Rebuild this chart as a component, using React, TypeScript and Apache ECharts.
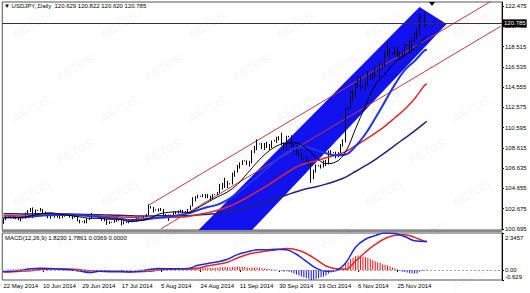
import React, { useEffect, useRef } from 'react';
import * as echarts from 'echarts';

const tickLabels = ['22 May 2014', '10 Jun 2014', '29 Jun 2014', '17 Jul 2014', '5 Aug 2014', '24 Aug 2014', '11 Sep 2014', '30 Sep 2014', '19 Oct 2014', '6 Nov 2014', '25 Nov 2014'];
const barsPerTick = 16;
const totalSlots = 203;

const opens = [101.30,101.65,101.92,101.94,101.95,101.90,101.80,101.65,101.72,101.76,
102.25,102.45,102.70,102.15,102.48,102.52,102.55,102.35,102.10,101.85,
101.98,101.99,101.85,102.10,101.80,102.05,102.02,102.05,101.90,101.95,
101.90,101.50,101.40,101.38,101.30,101.70,101.75,102.05,102.00,102.02,
101.80,101.60,101.60,101.30,101.33,101.36,101.55,101.60,101.55,101.20,
101.30,101.34,101.40,101.50,101.45,101.80,101.80,101.83,101.85,102.10,
102.80,102.80,102.55,102.58,102.55,102.60,102.10,102.05,102.05,102.06,
102.35,102.25,102.45,102.40,102.38,102.42,102.60,102.95,103.70,103.80,
103.90,103.90,103.85,104.05,103.85,103.70,104.05,104.06,104.25,105.05,
104.75,105.25,105.10,105.12,106.15,106.25,106.80,107.10,107.33,107.35,
107.20,107.15,108.40,108.70,109.00,109.02,108.70,109.00,108.85,108.75,
109.30,109.35,109.45,109.65,108.90,108.45,109.70,109.78,108.85,108.75,
108.15,108.05,107.55,107.55,107.35,107.20,105.90,106.35,106.85,106.87,
106.95,107.20,107.05,108.20,108.15,108.15,107.85,108.15,108.90,109.25,
112.40,112.45,114.00,113.60,114.70,115.00,114.55,114.55,114.80,115.85,
115.60,115.80,116.25,116.28,116.60,116.70,117.90,118.20,117.80,117.85,
118.40,117.95,117.65,117.80,118.60,118.62,118.40,119.20,119.80,119.85,
121.40,121.50,120.629];

const highs = [101.75,102.00,101.98,102.10,102.05,101.95,101.85,101.90,101.80,102.30,
102.55,102.75,102.80,102.60,102.56,102.75,102.65,102.40,102.15,102.15,
102.03,102.05,102.25,102.20,102.10,102.15,102.08,102.15,102.10,102.05,
101.95,101.60,101.45,101.55,101.75,101.80,102.25,102.10,102.05,102.05,
101.85,101.75,101.70,101.45,101.40,101.60,101.90,101.75,101.60,101.45,
101.38,101.50,101.60,101.60,101.85,101.85,101.85,101.95,102.15,103.10,
102.95,102.85,102.62,102.70,102.75,102.65,102.15,102.10,102.10,102.40,
102.45,102.50,102.60,102.55,102.45,102.65,103.00,103.80,103.90,104.05,
103.95,104.10,104.10,104.10,103.95,104.10,104.10,104.30,105.10,105.20,
105.70,105.40,105.15,106.20,106.40,106.95,107.20,107.40,107.40,107.40,
107.35,108.40,108.80,109.45,109.05,109.10,109.10,109.20,109.00,109.35,
109.40,109.70,109.75,110.10,109.15,109.80,109.80,109.85,109.00,108.90,
108.40,108.15,107.60,107.75,107.45,107.30,106.50,107.00,106.92,107.00,
107.40,107.45,108.35,108.40,108.20,108.25,108.20,109.00,109.45,112.40,
112.55,114.20,114.20,114.95,115.50,115.60,114.65,115.00,116.10,115.90,
116.00,116.45,116.35,117.05,116.85,118.00,118.95,118.30,117.90,118.50,
118.45,118.00,118.00,118.75,118.70,119.15,119.40,119.90,120.25,121.70,
121.55,121.85,120.822];

const lows = [101.20,101.55,101.88,101.85,101.70,101.65,101.55,101.45,101.70,101.70,
102.10,102.35,101.75,102.10,102.45,102.40,102.25,101.95,101.75,101.70,
101.95,101.80,101.80,101.70,101.75,101.90,102.00,101.80,101.65,101.80,
101.45,101.25,101.35,101.25,101.25,101.55,101.70,101.95,101.97,101.70,
101.50,101.45,101.10,101.20,101.30,101.30,101.40,101.50,101.05,101.15,
101.28,101.25,101.35,101.40,101.40,101.65,101.78,101.70,101.80,102.05,
102.70,102.30,102.50,102.40,102.45,101.95,101.75,101.50,102.02,102.00,
102.15,102.20,102.30,102.20,102.35,102.35,102.55,102.90,103.40,103.70,
103.85,103.80,103.70,103.70,103.45,103.65,104.02,104.00,104.20,104.55,
104.70,104.70,105.05,105.05,105.80,106.20,106.60,106.95,107.30,106.95,
106.80,107.10,108.10,108.40,108.95,108.50,108.40,108.60,108.40,108.60,
109.25,109.10,109.35,108.85,108.30,108.40,109.65,108.70,108.30,107.95,
107.80,107.40,107.50,107.15,106.90,105.20,105.55,106.20,106.80,106.60,
106.70,106.85,107.00,107.90,108.10,107.60,107.70,108.10,108.75,109.15,
112.35,112.40,113.25,113.50,114.50,114.25,114.50,114.30,114.70,115.25,
115.35,115.50,116.20,115.45,116.30,116.55,117.60,117.30,117.75,117.70,
117.50,117.25,117.50,117.60,118.55,117.90,118.10,119.00,119.30,119.70,
121.35,120.45,120.620];

const closes = [101.65,101.95,101.94,101.95,101.90,101.80,101.65,101.75,101.76,102.25,
102.45,102.70,102.15,102.50,102.52,102.55,102.35,102.10,101.85,102.00,
101.99,101.85,102.10,101.80,102.05,102.05,102.05,101.90,101.95,101.90,
101.50,101.35,101.38,101.30,101.70,101.75,102.05,102.00,102.02,101.80,
101.60,101.60,101.30,101.35,101.36,101.55,101.60,101.55,101.20,101.35,
101.34,101.40,101.50,101.45,101.80,101.80,101.83,101.85,102.10,102.80,
102.80,102.60,102.58,102.55,102.60,102.10,102.05,102.00,102.06,102.35,
102.25,102.45,102.40,102.35,102.42,102.60,102.95,103.70,103.80,103.85,
103.90,103.85,104.05,103.85,103.70,104.05,104.06,104.25,105.05,104.75,
105.25,105.10,105.12,106.15,106.25,106.80,107.10,107.35,107.35,107.20,
107.15,108.40,108.70,109.00,109.02,108.70,109.00,108.85,108.75,109.30,
109.35,109.45,109.65,108.90,108.45,109.75,109.78,108.85,108.75,108.15,
108.05,107.60,107.55,107.35,107.20,105.90,106.35,106.90,106.87,106.95,
107.20,107.05,108.20,108.20,108.15,107.85,108.15,108.90,109.25,112.30,
112.45,114.00,113.60,114.70,115.00,114.60,114.55,114.80,115.85,115.60,
115.80,116.30,116.28,116.60,116.70,117.90,118.20,117.75,117.85,118.40,
117.95,117.65,117.80,118.65,118.62,118.40,119.20,119.80,119.85,121.45,
121.50,120.63,120.785];

// bar positions at which the indicator lines were read
const sampleIdx = [0,3,7,11,15,19,23,27,31,35,39,43,47,51,55,59,63,67,71,75,79,83,87,91,95,99,103,107,111,115,119,123,127,131,135,139,143,147,151,155,159,163,167,171,172];

const maBlack = [101.80,101.82,101.82,101.98,102.17,102.27,102.15,102.01,101.88,101.74,101.73,101.65,101.65,101.43,101.49,101.70,102.14,102.32,102.37,102.30,102.77,103.31,103.84,104.32,105.05,106.12,107.21,108.15,108.80,109.10,109.09,108.57,107.70,107.08,107.24,108.26,110.48,112.69,114.77,115.83,116.94,117.64,118.36,119.29,119.55];
const maBlue = [101.81,101.81,101.81,101.89,102.00,102.04,102.07,102.09,102.07,101.95,101.87,101.77,101.70,101.58,101.57,101.68,101.79,101.91,102.04,102.22,102.55,102.84,103.07,103.55,104.18,104.98,105.77,106.60,107.46,108.16,108.62,108.69,108.40,108.09,107.90,107.98,108.78,109.97,111.52,113.16,114.82,116.21,117.10,118.12,118.20];
const maRed = [101.99,101.99,101.97,101.99,102.03,102.04,102.04,102.04,102.01,101.96,101.96,101.91,101.88,101.84,101.78,101.75,101.80,101.83,101.85,101.92,102.11,102.28,102.52,102.84,103.27,103.78,104.34,104.91,105.55,106.17,106.76,107.13,107.37,107.65,107.92,108.25,108.83,109.42,110.05,110.75,111.56,112.39,113.42,114.72,114.85];
const maNavy = [102.18,102.18,102.17,102.17,102.18,102.18,102.16,102.15,102.13,102.10,102.09,102.06,102.03,101.99,101.96,101.96,101.98,101.98,101.98,101.99,102.05,102.13,102.21,102.36,102.55,102.78,103.05,103.36,103.69,104.01,104.34,104.62,104.83,105.08,105.38,105.76,106.31,106.88,107.48,108.15,108.87,109.57,110.27,111.04,111.20];

const macdMain = [-0.11,-0.08,-0.02,0.08,0.12,0.10,0.06,0.02,-0.06,-0.16,-0.08,-0.10,-0.10,-0.12,-0.08,0.02,0.10,0.08,0.08,0.10,0.30,0.42,0.52,0.68,0.98,1.15,1.28,1.28,1.32,1.28,1.00,0.55,0.12,-0.08,-0.02,0.45,1.45,1.95,2.18,2.3457,2.32,2.12,1.85,1.80,1.823];
const macdSignal = [-0.13,-0.12,-0.08,-0.04,0.03,0.07,0.07,0.06,0.02,-0.04,-0.04,-0.06,-0.08,-0.10,-0.10,-0.08,0.00,0.05,0.06,0.07,0.12,0.27,0.37,0.50,0.76,0.98,1.11,1.20,1.29,1.36,1.28,1.05,0.67,0.26,0.08,0.05,0.57,1.13,1.62,2.00,2.20,2.24,2.07,1.82,1.786];
const macdHist = [0.02,0.03,0.03,0.04,0.05,0.05,0.06,0.06,
0.08,0.10,0.11,0.12,0.11,0.10,0.09,0.09,
0.08,0.06,0.04,0.03,0.02,0.01,0.00,-0.01,
-0.02,-0.02,-0.03,-0.04,-0.05,-0.06,-0.07,-0.08,
-0.10,-0.11,-0.12,-0.11,-0.08,-0.06,-0.05,-0.04,
-0.03,-0.03,-0.04,-0.04,-0.03,-0.03,-0.02,-0.02,
-0.03,-0.03,-0.03,-0.02,-0.01,0.00,0.01,0.02,
0.03,0.04,0.06,0.10,0.12,0.12,0.11,0.10,
0.08,0.06,0.04,0.03,0.03,0.02,0.02,0.02,
0.02,0.02,0.02,0.03,0.06,0.12,0.16,0.18,
0.18,0.17,0.16,0.15,0.13,0.14,0.14,0.15,
0.18,0.18,0.19,0.18,0.18,0.20,0.21,0.22,
0.21,0.20,0.19,0.17,0.14,0.16,0.16,0.17,
0.14,0.11,0.10,0.08,0.06,0.05,0.04,0.03,
0.01,-0.05,-0.10,-0.08,-0.10,-0.16,-0.22,-0.28,
-0.34,-0.40,-0.45,-0.50,-0.55,-0.629,-0.60,-0.55,
-0.50,-0.45,-0.40,-0.34,-0.22,-0.16,-0.12,-0.10,
-0.05,0.05,0.12,0.40,0.50,0.70,0.78,0.88,
0.92,0.90,0.86,0.82,0.78,0.70,0.62,0.56,
0.50,0.44,0.36,0.34,0.30,0.22,0.16,0.12,
0.05,-0.04,-0.10,-0.12,-0.16,-0.20,-0.22,-0.22,
-0.20,-0.10,-0.06,-0.02,0.0369];

const priceTicks = [100.695,102.675,104.655,106.635,108.615,110.595,112.575,114.555,116.535,118.515,120.495,122.475];
const priceMin = 100.597;
const priceMax = 122.866;
const lastPrice = 120.785;
const macdMin = -0.629;
const macdMax = 2.3457;
const macdTicks = [-0.629, 0, 2.3457];

// drawn objects, in (bar index, price)
const channelCorners = [[73.8, 99.33], [169.3, 122.38], [180.3, 120.72], [96.1, 99.33]];
const upperTrend = [[59, 103.02], [202, 123.51]];
const lowerTrend = [[64, 100.72], [202, 120.50]];

const FONT = 'Liberation Sans';

export default function App() {
  const ref = useRef<HTMLDivElement>(null);
  useEffect(() => {
    const chart = echarts.init(ref.current!, null, { renderer: 'svg' });
    const slots = Array.from({ length: totalSlots }, (_, i) => String(i));
    const candles = opens.map((o, i) => [o, closes[i], lows[i], highs[i]]);
    const pair = (vals: number[]) => vals.map((v, i) => [sampleIdx[i], v]);
    const labelInterval = (i: number) => i % barsPerTick === 0 && i / barsPerTick < tickLabels.length;

    const marks: any[] = [];
    for (let r = 0; r < 7; r++) {
      for (let c = 0; c < 6; c++) {
        const x = 10 + c * 88 + (r % 2) * 44;
        if (x > 480) continue;
        marks.push({
          type: 'text',
          x,
          y: 30 + r * 42,
          rotation: 0.5,
          silent: true,
          z: -10,
          style: { text: 'AETOS', fontSize: 12, fontWeight: 'bold', fontFamily: FONT, fill: 'rgba(120,130,150,0.08)' },
        });
      }
    }

    const lineCommon = { type: 'line', xAxisIndex: 0, yAxisIndex: 0, showSymbol: false, smooth: 0.4, silent: true, z: 4 };
    const axisText = { fontSize: 6, fontFamily: FONT, color: '#000' };

    const option: any = {
      animation: false,
      backgroundColor: '#ffffff',
      title: [
        { text: '\u25BC USDJPY,,Daily  120.629 120.822 120.620 120.785', left: 4, top: 3, padding: 0, textStyle: { fontSize: 6, fontWeight: 'normal', fontFamily: FONT, color: '#000' } },
        { text: 'MACD(12,26,9) 1.8230 1.7861 0.0369 0.0000', left: 5, top: 235, padding: 0, textStyle: { fontSize: 6, fontWeight: 'normal', fontFamily: FONT, color: '#000' } },
      ],
      graphic: [
        ...marks,
        { type: 'rect', shape: { x: 2, y: 230, width: 500, height: 2 }, style: { fill: '#8a8a8a' }, z: 10, silent: true },
        { type: 'polygon', shape: { points: [[429, 2], [435, 2], [432, 6]] }, style: { fill: '#000' }, z: 10, silent: true },
      ],
      grid: [
        { left: 2.27, right: 28, top: 2, height: 228, show: true, borderColor: '#555', borderWidth: 1 },
        { left: 2.27, right: 28, top: 233, height: 47, show: true, borderColor: '#555', borderWidth: 1 },
      ],
      xAxis: [
        { type: 'category', gridIndex: 0, data: slots, boundaryGap: true, show: false },
        {
          type: 'category', gridIndex: 1, data: slots, boundaryGap: true,
          axisLine: { show: false },
          axisTick: { show: true, interval: labelInterval, alignWithLabel: true, length: 2, lineStyle: { color: '#000' } },
          axisLabel: {
            ...axisText, interval: labelInterval, margin: 3, align: 'left',
            formatter: (_v: string, i: number) => tickLabels[i / barsPerTick] ?? '',
          },
        },
      ],
      yAxis: [
        {
          type: 'value', gridIndex: 0, position: 'right', min: priceMin, max: priceMax,
          splitLine: { show: false },
          axisLine: { show: true, lineStyle: { color: '#000' } },
          axisTick: { show: true, customValues: priceTicks, length: 2, lineStyle: { color: '#000' } },
          axisLabel: { ...axisText, customValues: priceTicks, margin: 3, formatter: (v: number) => v.toFixed(3) },
        },
        {
          type: 'value', gridIndex: 1, position: 'right', min: macdMin, max: macdMax,
          splitLine: { show: false },
          axisLine: { show: true, lineStyle: { color: '#000' } },
          axisTick: { show: true, customValues: macdTicks, length: 2, lineStyle: { color: '#000' } },
          axisLabel: {
            ...axisText, customValues: macdTicks, margin: 3,
            formatter: (v: number) => (v === macdMax ? `{t|${v}}` : v === macdMin ? `{b|${v}}` : '{m|0.00}'),
            rich: {
              t: { ...axisText, padding: [9, 0, 0, 0] },
              b: { ...axisText, padding: [0, 0, 7, 0] },
              m: { ...axisText },
            },
          },
        },
      ],
      series: [
        {
          type: 'custom', xAxisIndex: 0, yAxisIndex: 0, clip: true, silent: true, z: 1,
          data: [0],
          renderItem: (_p: any, api: any) => ({
            type: 'polygon',
            shape: { points: channelCorners.map((c) => api.coord(c)) },
            style: { fill: '#1212ee' },
          }),
        },
        { ...lineCommon, smooth: false, data: upperTrend, lineStyle: { color: '#c03a3a', width: 1 }, z: 2 },
        { ...lineCommon, smooth: false, data: lowerTrend, lineStyle: { color: '#c03a3a', width: 1 }, z: 2 },
        {
          type: 'candlestick', xAxisIndex: 0, yAxisIndex: 0, data: candles, barWidth: 1, silent: true, z: 3,
          itemStyle: { color: '#ffffff', color0: '#000000', borderColor: '#000000', borderColor0: '#000000', borderWidth: 1 },
          markLine: {
            silent: true, symbol: 'none', animation: false,
            data: [{ yAxis: lastPrice }],
            lineStyle: { color: '#333', width: 1, type: 'solid' },
            label: { position: 'end', distance: 1, formatter: lastPrice.toFixed(3), backgroundColor: '#000', color: '#fff', fontSize: 6, fontFamily: FONT, padding: [1, 1, 1, 1] },
          },
        },
        { ...lineCommon, data: pair(maNavy), lineStyle: { color: '#23237a', width: 1.5 } },
        { ...lineCommon, data: pair(maRed), lineStyle: { color: '#e02a2a', width: 1.5 } },
        { ...lineCommon, data: pair(maBlue), lineStyle: { color: '#2233e6', width: 2 } },
        { ...lineCommon, data: pair(maBlack), lineStyle: { color: '#000', width: 1 } },
        {
          type: 'bar', xAxisIndex: 1, yAxisIndex: 1, barWidth: 1, silent: true,
          data: macdHist.map((v, i) => [i, v]),
          itemStyle: { color: (p: any) => (p.value[1] >= 0 ? '#ff1010' : '#1010ff') },
          markLine: {
            silent: true, symbol: 'none', animation: false, data: [{ yAxis: 0 }],
            lineStyle: { color: '#999', width: 1, type: [2, 2] }, label: { show: false },
          },
        },
        { type: 'line', xAxisIndex: 1, yAxisIndex: 1, showSymbol: false, smooth: 0.4, silent: true, data: pair(macdSignal), lineStyle: { color: '#e02a2a', width: 1.5 } },
        { type: 'line', xAxisIndex: 1, yAxisIndex: 1, showSymbol: false, smooth: 0.4, silent: true, data: pair(macdMain), lineStyle: { color: '#1a2ad8', width: 1.5 } },
      ],
    };
    chart.setOption(option);
    return () => chart.dispose();
  }, []);
  return <div ref={ref} style={{ position: 'absolute', left: 0, top: 0, width: 530, height: 293, background: '#fff' }} />;
}
